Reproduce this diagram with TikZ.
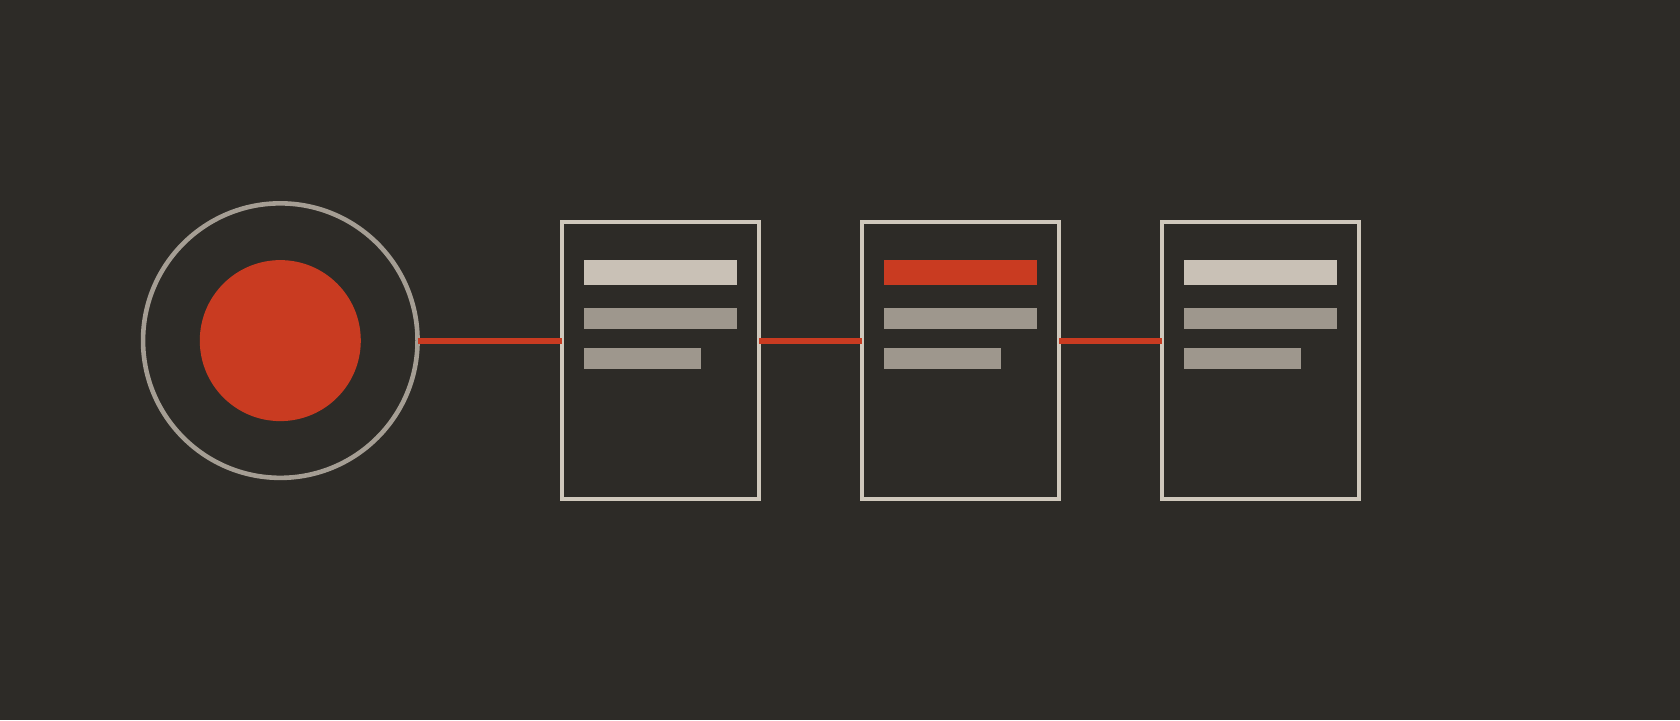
\documentclass[tikz,border=0pt]{standalone}
\definecolor{bgc}{HTML}{2D2B27}
\definecolor{redc}{HTML}{C93B21}
\definecolor{ringc}{HTML}{A59E94}
\definecolor{framec}{HTML}{CFC8BC}
\definecolor{lightbar}{HTML}{C9C1B6}
\definecolor{graybar}{HTML}{9E978D}
\tikzset{
  ring/.style={circle, draw=ringc, line width=4.6pt, minimum size=274.5pt, inner sep=0pt, outer sep=0pt},
  core/.style={circle, fill=redc, minimum size=161pt, inner sep=0pt, outer sep=0pt},
  card/.style={rectangle, draw=framec, line width=4pt, minimum width=197.3pt, minimum height=276.7pt, inner sep=0pt, outer sep=0pt},
  bar/.style={rectangle, inner sep=0pt, outer sep=0pt, anchor=north west},
  link/.style={draw=redc, line width=5.8pt}
}
\begin{document}
\begin{tikzpicture}[x=1pt,y=-1pt]
\fill[bgc] (0,0) rectangle (1680,720);
\useasboundingbox (0,0) rectangle (1680,720);
\node[ring] (src) at (280.3,340.6) {};
\node[core] (dot) at (280.3,340.6) {};
\foreach \i/\x/\tc in {1/660.7/lightbar, 2/960.7/redc, 3/1260.7/lightbar}{
  \node[card] (b\i) at (\x,360.3) {};
  \node[bar, fill=\tc, minimum width=153pt, minimum height=25pt] (b\i t) at ([shift={(22,38)}]b\i.north west) {};
  \node[bar, fill=graybar, minimum width=153pt, minimum height=20.7pt] (b\i m) at ([shift={(22,86)}]b\i.north west) {};
  \node[bar, fill=graybar, minimum width=117pt, minimum height=21pt] (b\i s) at ([shift={(22,126)}]b\i.north west) {};
}
\draw[link] (src.east) -- (b1.west |- src.east);
\draw[link] (b1.east |- src.east) -- (b2.west |- src.east);
\draw[link] (b2.east |- src.east) -- (b3.west |- src.east);
\end{tikzpicture}
\end{document}
